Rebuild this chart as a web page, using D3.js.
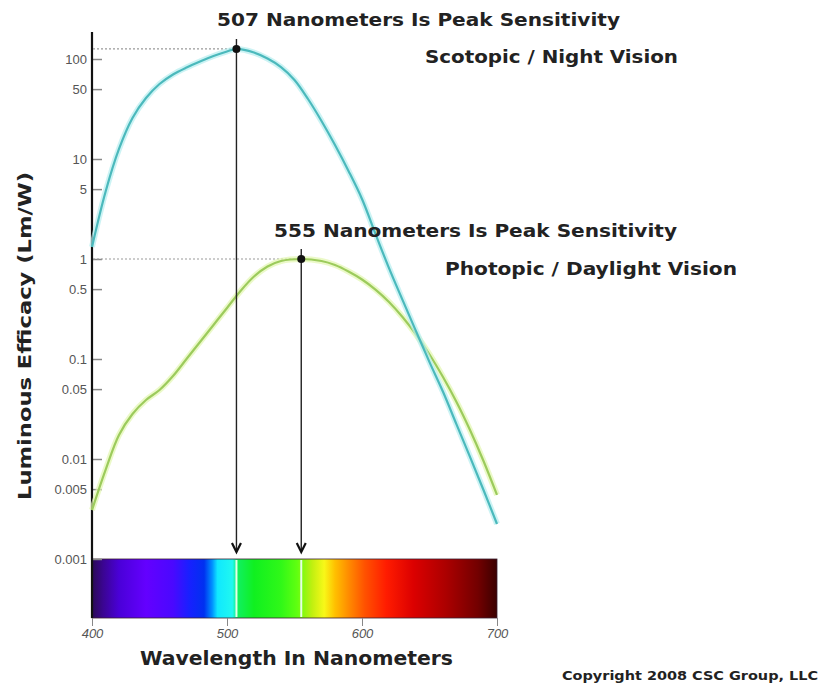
<!DOCTYPE html>
<html>
<head>
<meta charset="utf-8">
<script src="https://cdn.jsdelivr.net/npm/d3@7"></script>
<style>
  html, body { margin: 0; padding: 0; background: #fff; }
  svg { display: block; }
  .title { font-family: "DejaVu Sans", Verdana, sans-serif; font-weight: bold; fill: #222; }
  .tick text { font-family: "Liberation Sans", Arial, sans-serif; fill: #555; }
</style>
</head>
<body>
<svg id="chart" width="824" height="684"></svg>
<script>
// Wavelengths (nm) and luminous efficacy values for each vision curve
const scotopicNm = [400, 410, 420, 430, 440, 450, 460, 470, 480, 490, 500, 507, 520, 530, 540, 550, 560, 570, 580, 590, 600, 610, 620, 630, 640, 650, 660, 670, 680, 690, 700];
const scotopicValues = [1.32, 4.68, 12.6, 25.7, 40.7, 56.2, 70.0, 82.2, 94.4, 107, 119, 126, 116, 101, 83, 61.7, 39.8, 24.0, 13.8, 7.6, 3.98, 1.78, 0.81, 0.39, 0.19, 0.093, 0.047, 0.0222, 0.0105, 0.0049, 0.00224];

const photopicNm = [400, 410, 420, 430, 440, 450, 460, 470, 480, 490, 500, 510, 520, 530, 540, 555, 570, 580, 590, 600, 610, 620, 630, 640, 650, 660, 670, 680, 690, 700];
const photopicValues = [0.00309, 0.00776, 0.0174, 0.0282, 0.0389, 0.049, 0.0676, 0.100, 0.148, 0.219, 0.324, 0.479, 0.668, 0.841, 0.955, 1.0, 0.955, 0.871, 0.750, 0.624, 0.495, 0.372, 0.263, 0.176, 0.111, 0.066, 0.0372, 0.0195, 0.00955, 0.00437];

// Peak sensitivity markers
const peakNm = [507, 555];
const peakValues = [126, 1];
const peakLabels = ["507 Nanometers Is Peak Sensitivity", "555 Nanometers Is Peak Sensitivity"];
const curveLabels = ["Scotopic / Night Vision", "Photopic / Daylight Vision"];

// Axis ticks
const yTickValues = [100, 50, 10, 5, 1, 0.5, 0.1, 0.05, 0.01, 0.005, 0.001];
const yTickLabels = ["100", "50", "10", "5", "1", "0.5", "0.1", "0.05", "0.01", "0.005", "0.001"];
const xTickValues = [400, 500, 600, 700];

// Visible spectrum colour stops
const spectrumNm = [400, 408, 420, 440, 460, 472, 483, 489, 493, 504, 508, 520, 540, 552, 563, 572, 580, 590, 602, 618, 638, 662, 686, 700];
const spectrumColors = ["#2a0a55", "#3a0590", "#4a00d8", "#6400ff", "#4a08ff", "#1820ff", "#0030f0", "#0090ff", "#10e8ff", "#20f8f0", "#10f060", "#10f020", "#30f818", "#60ff10", "#c0f010", "#f8f818", "#ffc000", "#ff8c00", "#ff5200", "#ff1c00", "#dc0000", "#ac0000", "#720000", "#3a0000"];

const svg = d3.select("#chart");

const x = d3.scaleLinear().domain([400, 700]).range([92, 497]);
const y = d3.scaleLog().domain([0.001, 1]).range([559, 259]);

const barTop = y(0.001), barBottom = 618;

// Spectrum bar
const grad = svg.append("defs").append("linearGradient")
  .attr("id", "spectrum")
  .attr("gradientUnits", "userSpaceOnUse")
  .attr("x1", x(400)).attr("x2", x(700)).attr("y1", 0).attr("y2", 0);
grad.selectAll("stop").data(spectrumNm).join("stop")
  .attr("offset", d => (d - 400) / 300)
  .attr("stop-color", (d, i) => spectrumColors[i]);

svg.append("rect")
  .attr("x", x(400)).attr("y", barTop)
  .attr("width", x(700) - x(400)).attr("height", barBottom - barTop)
  .attr("fill", "url(#spectrum)")
  .attr("stroke", "#3a2030").attr("stroke-width", 0.8);

// Light marks in the spectrum at each peak wavelength
svg.selectAll("line.specmark").data(peakNm).join("line")
  .attr("class", "specmark")
  .attr("x1", d => x(d)).attr("x2", d => x(d))
  .attr("y1", barTop + 1).attr("y2", barBottom - 1)
  .attr("stroke", "#e6ffe6").attr("stroke-width", 2);

// Y axis (log scale), ticks pointing into the plot
const yAxis = d3.axisLeft(y)
  .tickValues(yTickValues)
  .tickFormat((d, i) => yTickLabels[i])
  .tickSizeInner(-10).tickSizeOuter(0).tickPadding(5);
const gy = svg.append("g").attr("transform", "translate(92,0)").call(yAxis);
gy.select(".domain").remove();
gy.selectAll(".tick line").attr("stroke", "#888").attr("stroke-width", 1.5);
gy.selectAll(".tick text").attr("font-size", 13);

// X axis tick labels under the spectrum
const xAxis = d3.axisBottom(x)
  .tickValues(xTickValues)
  .tickFormat(d3.format("d"))
  .tickSizeInner(8).tickSizeOuter(0).tickPadding(3);
const gx = svg.append("g").attr("transform", `translate(0,${barBottom})`).call(xAxis);
gx.select(".domain").remove();
gx.selectAll(".tick line").attr("stroke", "#888");
gx.selectAll(".tick text").attr("font-size", 13).attr("font-style", "italic");

// Y axis line
svg.append("line")
  .attr("x1", 92).attr("x2", 92).attr("y1", 32).attr("y2", barBottom)
  .attr("stroke", "#111").attr("stroke-width", 2.2);

// Dotted guides from the axis to each peak
svg.selectAll("line.guide").data(peakNm).join("line")
  .attr("class", "guide")
  .attr("x1", 93).attr("x2", d => x(d))
  .attr("y1", (d, i) => y(peakValues[i])).attr("y2", (d, i) => y(peakValues[i]))
  .attr("stroke", "#999").attr("stroke-width", 1.2).attr("stroke-dasharray", "2,2");

// Curves
const line = d3.line()
  .x(d => x(d[0])).y(d => y(d[1]))
  .curve(d3.curveCatmullRom.alpha(0.5));
const scotopic = scotopicNm.map((d, i) => [d, scotopicValues[i]]);
const photopic = photopicNm.map((d, i) => [d, photopicValues[i]]);

function drawCurve(data, halo, core) {
  svg.append("path").datum(data).attr("d", line)
    .attr("fill", "none").attr("stroke", halo).attr("stroke-width", 6).attr("stroke-opacity", 0.7);
  svg.append("path").datum(data).attr("d", line)
    .attr("fill", "none").attr("stroke", core).attr("stroke-width", 2.2);
}
drawCurve(photopic, "#e2f6b0", "#9ccb5c");
drawCurve(scotopic, "#b6eef0", "#4bb9bc");

// Arrows from each peak down to the spectrum
const arrowTip = barTop - 7;
svg.selectAll("line.drop").data(peakNm).join("line")
  .attr("class", "drop")
  .attr("x1", d => x(d)).attr("x2", d => x(d))
  .attr("y1", (d, i) => y(peakValues[i]) - 10).attr("y2", arrowTip)
  .attr("stroke", "#222").attr("stroke-width", 1.4);
svg.selectAll("path.head").data(peakNm).join("path")
  .attr("class", "head")
  .attr("d", d => `M${x(d) - 4.5},${arrowTip - 9} L${x(d)},${arrowTip} L${x(d) + 4.5},${arrowTip - 9}`)
  .attr("fill", "none").attr("stroke", "#111").attr("stroke-width", 2.2);
svg.selectAll("circle.peak").data(peakNm).join("circle")
  .attr("class", "peak")
  .attr("cx", d => x(d)).attr("cy", (d, i) => y(peakValues[i]))
  .attr("r", 4).attr("fill", "#111");

// Annotations
function label(text, x0, yb, size, width) {
  const t = svg.append("text").attr("class", "title")
    .attr("x", x0).attr("y", yb).attr("font-size", size).text(text);
  if (width) t.attr("textLength", width).attr("lengthAdjust", "spacingAndGlyphs");
  return t;
}
label(peakLabels[0], 217, 26, 18, 403);
label(curveLabels[0], 425, 63, 18, 253);
label(peakLabels[1], 274, 237, 18, 403);
label(curveLabels[1], 445, 275, 18, 292);
label("Wavelength In Nanometers", 140, 665, 19, 313);
label("Copyright 2008 CSC Group, LLC", 562, 680, 12, 256);

svg.append("text").attr("class", "title")
  .attr("transform", "translate(31,500) rotate(-90)")
  .attr("font-size", 18)
  .attr("textLength", 328).attr("lengthAdjust", "spacingAndGlyphs")
  .text("Luminous Efficacy (Lm/W)");
</script>
</body>
</html>
